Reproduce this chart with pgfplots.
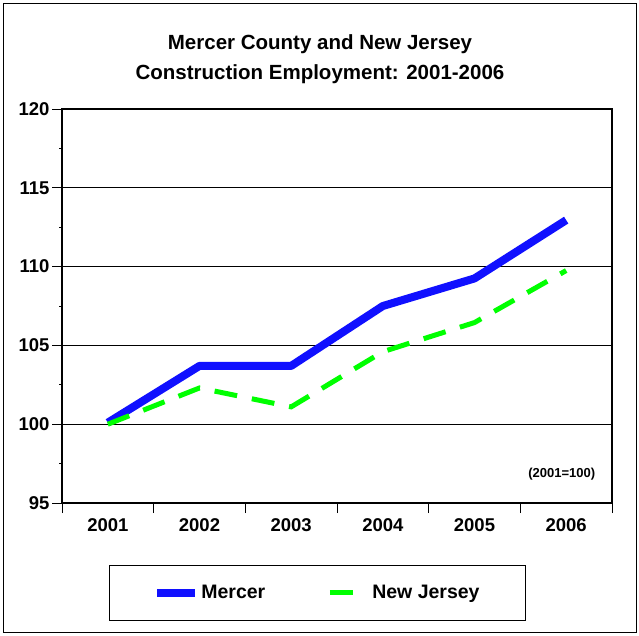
\documentclass[border=0pt]{standalone}
\usepackage{pgfplots}
\pgfplotsset{compat=1.18}
\usepackage{fontspec}
\setmainfont{Liberation Sans}
\definecolor{mercerblue}{RGB}{16,16,255}
\definecolor{njgreen}{RGB}{0,255,0}
\begin{document}
\begin{tikzpicture}[x=1pt,y=1pt]
\useasboundingbox (0,0) rectangle (639,-635);
\draw[line width=1pt] (3,-3) rectangle (636,-632);
\node[align=center, font=\bfseries\fontsize{20.5}{30}\selectfont] at (320,-59) {Mercer County and New Jersey\\Construction Employment: 2001-2006};
\begin{axis}[
  at={(62pt,-503pt)}, anchor=south west,
  scale only axis, width=550pt, height=394pt,
  xmin=0.5, xmax=6.5, ymin=95, ymax=120,
  xtick={0.5,1.5,2.5,3.5,4.5,5.5,6.5},
  x tick label as interval,
  xticklabels={2001,2002,2003,2004,2005,2006},
  ytick={95,100,105,110,115,120},
  minor ytick={97.5,102.5,107.5,112.5,117.5},
  xtick pos=bottom, ytick pos=left,
  tick align=outside,
  major tick length=10pt,
  minor tick length=3pt,
  tick style={black, line width=1pt},
  ymajorgrids,
  grid style={black, line width=0.9pt},
  axis line style={black, line width=1.2pt},
  tick label style={font=\bfseries\fontsize{18.5}{19}\selectfont},
  /pgf/number format/assume math mode=true,
  xticklabel style={yshift=-2pt},
  yticklabel style={xshift=1pt},
  legend style={at={(0.4645,-0.157)}, anchor=north, draw=black, line width=1pt,
    font=\bfseries\fontsize{19.5}{20}\selectfont,
    inner xsep=44pt, inner ysep=18pt,
    /tikz/every even column/.append style={column sep=60pt}},
  legend columns=2,
  legend image code/.code={\draw[#1] (0pt,0pt) -- (38pt,0pt);},
]
\addplot[color=mercerblue, line width=8pt, line join=round] coordinates {
  (1,100.1) (2,103.7) (3,103.7) (4,107.5) (5,109.25) (6,112.95)};
\addlegendentry{Mercer}
\addplot[color=njgreen, line width=5pt, dash pattern=on 23pt off 15pt] coordinates {
  (1,100.0) (2,102.3) (3,101.1) (4,104.6) (5,106.45) (6,109.75)};
\addlegendentry{New Jersey}
\node[anchor=east, font=\bfseries\fontsize{13}{13}\selectfont] at (rel axis cs:0.976,0.074) {(2001=100)};
\end{axis}
\end{tikzpicture}
\end{document}
